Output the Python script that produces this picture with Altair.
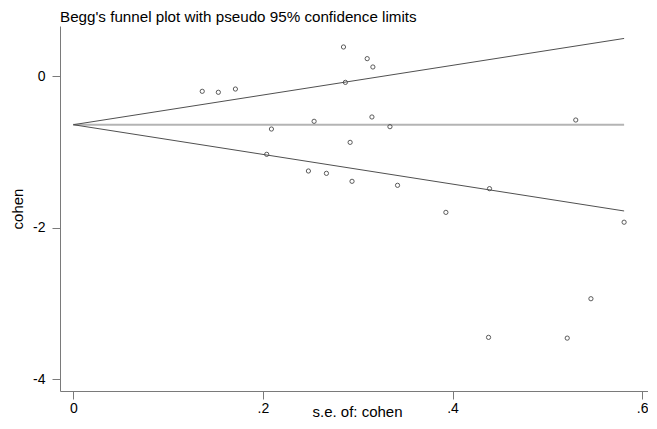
import altair as alt
import pandas as pd

# Study-level data
se = [0.136, 0.153, 0.171, 0.285, 0.310, 0.316, 0.287, 0.209, 0.254, 0.315,
      0.334, 0.530, 0.204, 0.292, 0.248, 0.267, 0.294, 0.342, 0.439, 0.393,
      0.581, 0.546, 0.438, 0.521]
cohen = [-0.202, -0.215, -0.172, 0.383, 0.229, 0.119, -0.084, -0.700, -0.598, -0.541,
         -0.669, -0.581, -1.034, -0.876, -1.254, -1.285, -1.390, -1.443, -1.487, -1.800,
         -1.930, -2.940, -3.450, -3.460]

pooled = -0.643          # fixed-effect pooled estimate (centre line)
z = 1.96                 # pseudo 95% limits

x_ticks = [0, 0.2, 0.4, 0.6]
y_ticks = [-4, -2, 0]

pts = pd.DataFrame({"se": se, "cohen": cohen})
se_max = max(se)
lines = pd.DataFrame({
    "se": [0.0, se_max],
    "upper": [pooled + z * 0.0, pooled + z * se_max],
    "lower": [pooled - z * 0.0, pooled - z * se_max],
    "center": [pooled, pooled],
})

FONT = "Liberation Sans"

xscale = alt.Scale(domain=[-0.01403, 0.6062], nice=False, zero=False)
yscale = alt.Scale(domain=[-4.158, 0.660], nice=False, zero=False)

xaxis = alt.Axis(
    values=x_ticks, title="s.e. of: cohen", grid=False,
    labelExpr="datum.value == 0 ? '0' : replace(format(datum.value, '.1f'), '0.', '.')",
    titleX=297, titleY=25, titleBaseline="alphabetic", titleAnchor="middle",
)
yaxis = alt.Axis(
    values=y_ticks, title="cohen", grid=False,
    labelExpr="datum.value + ''",
    titleX=-43, titleY=182.5, titleBaseline="middle", titleAngle=270,
)

base_x = alt.X("se:Q", scale=xscale, axis=xaxis)

center = alt.Chart(lines).mark_line(color="#b4b4b4", strokeWidth=2).encode(
    x=base_x, y=alt.Y("center:Q", scale=yscale, axis=yaxis)
)
upper = alt.Chart(lines).mark_line(color="#505050", strokeWidth=1).encode(
    x=alt.X("se:Q", scale=xscale), y=alt.Y("upper:Q", scale=yscale)
)
lower = alt.Chart(lines).mark_line(color="#505050", strokeWidth=1).encode(
    x=alt.X("se:Q", scale=xscale), y=alt.Y("lower:Q", scale=yscale)
)
points = alt.Chart(pts).mark_point(
    shape="circle", filled=False, color="#4a4a4a", size=18, strokeWidth=0.9, opacity=1
).encode(
    x=alt.X("se:Q", scale=xscale), y=alt.Y("cohen:Q", scale=yscale)
)

chart = alt.layer(center, upper, lower, points).properties(
    width=588, height=365,
    title=alt.TitleParams(
        "Begg's funnel plot with pseudo 95% confidence limits",
        anchor="start", frame="group", font=FONT, fontSize=15.2,
        fontWeight="normal", color="#000000", offset=5, baseline="alphabetic", dy=16,
    ),
    autosize=alt.AutoSizeParams(type="none"),
    padding={"left": 52, "top": 18, "right": 0, "bottom": 30},
).configure_view(stroke=None).configure_axis(
    domainColor="#7a7a7a", domainWidth=1, tickColor="#7a7a7a", tickWidth=1,
    tickSize=8, labelFont=FONT, labelFontSize=14, labelColor="#000000",
    titleFont=FONT, titleFontSize=15, titleFontWeight="normal", titleColor="#000000",
).configure_axisX(labelPadding=2).configure_axisY(labelPadding=7)

chart.save("out.html", embed_options={"renderer": "svg", "actions": False})
